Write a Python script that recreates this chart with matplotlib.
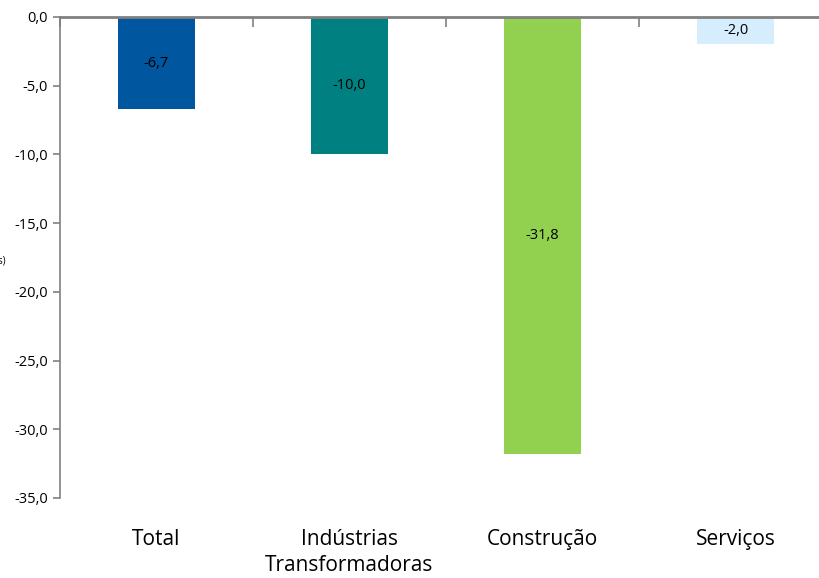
import matplotlib.pyplot as plt
import numpy as np

categorias = ["Total", "Indústrias\nTransformadoras", "Construção", "Serviços"]
valores = [-6.7, -10.0, -31.8, -2.0]
cores = ["#0057A0", "#008080", "#92D050", "#D5EDFC"]
yticks = [0, -5, -10, -15, -20, -25, -30, -35]

plt.rcParams['font.family'] = ['Open Sans', 'DejaVu Sans']

fig = plt.figure(figsize=(8.19, 5.78), dpi=100)
ax = fig.add_axes([60/819, 1 - 498/578, 772/819, (498 - 17)/578])

x = np.arange(len(categorias))
barras = ax.bar(x, valores, width=0.40, color=cores)

for b, v in zip(barras, valores):
    ax.text(b.get_x() + b.get_width() / 2, v / 2, f"{v:.1f}".replace(".", ","),
            ha="center", va="center", fontsize=10.5, color="black")

ax.set_xlim(-0.5, len(categorias) - 0.5)
ax.set_ylim(-35, 0)
ax.set_yticks(yticks)
ax.set_yticklabels([f"{t:.1f}".replace(".", ",") for t in yticks], fontsize=10.5)

ax.set_xticks(x)
ax.set_xticklabels(categorias, fontsize=15, linespacing=1.35)
ax.tick_params(axis="x", which="major", length=0, pad=22)
ax.set_xticks(np.arange(len(categorias)) - 0.5, minor=True)
ax.tick_params(axis="x", which="minor", top=True, bottom=False, direction="in",
               length=7, color="#808080", width=1.2)
ax.tick_params(axis="y", direction="out", length=5, color="#808080", width=1.2)

for s in ["right", "bottom"]:
    ax.spines[s].set_visible(False)
ax.spines["top"].set_color("#808080")
ax.spines["top"].set_linewidth(2)
ax.spines["left"].set_color("#808080")
ax.spines["left"].set_linewidth(1.2)

# rótulo do eixo parcialmente cortado na margem, como no original
fig.text(6/819, 1 - 261/578, "(Pontos)", ha="right", va="center", fontsize=7)

fig.savefig("out.png", dpi=100)
